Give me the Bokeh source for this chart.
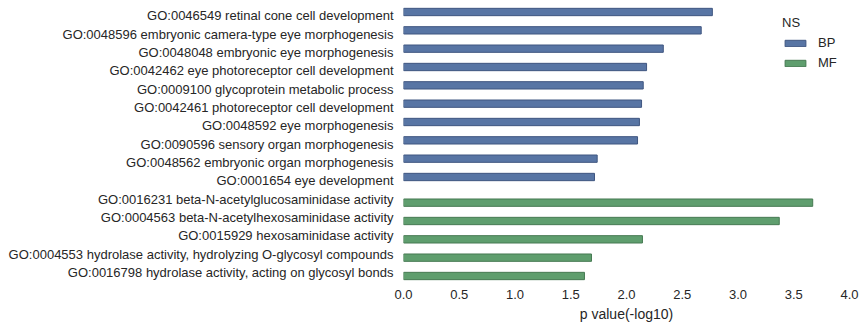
from bokeh.plotting import figure
from bokeh.models import ColumnDataSource, FactorRange, Range1d, FixedTicker
from bokeh.transform import dodge
from bokeh.embed import file_html
from bokeh.resources import INLINE

bp_terms = [
    "GO:0046549 retinal cone cell development",
    "GO:0048596 embryonic camera-type eye morphogenesis",
    "GO:0048048 embryonic eye morphogenesis",
    "GO:0042462 eye photoreceptor cell development",
    "GO:0009100 glycoprotein metabolic process",
    "GO:0042461 photoreceptor cell development",
    "GO:0048592 eye morphogenesis",
    "GO:0090596 sensory organ morphogenesis",
    "GO:0048562 embryonic organ morphogenesis",
    "GO:0001654 eye development",
]
bp_values = [2.77, 2.67, 2.33, 2.18, 2.15, 2.135, 2.116, 2.099, 1.737, 1.713]

mf_terms = [
    "GO:0016231 beta-N-acetylglucosaminidase activity",
    "GO:0004563 beta-N-acetylhexosaminidase activity",
    "GO:0015929 hexosaminidase activity",
    "GO:0004553 hydrolase activity, hydrolyzing O-glycosyl compounds",
    "GO:0016798 hydrolase activity, acting on glycosyl bonds",
]
mf_values = [3.67, 3.37, 2.143, 1.686, 1.623]

x_ticks = [0.0, 0.5, 1.0, 1.5, 2.0, 2.5, 3.0, 3.5, 4.0]

all_terms = bp_terms + mf_terms
FONT = "Liberation Sans"
TXT = "#262626"

p = figure(width=865, height=328, output_backend="svg", toolbar_location=None,
           y_range=FactorRange(factors=list(reversed(all_terms)), range_padding=0, factor_padding=0),
           x_range=Range1d(0, 4),
           min_border_left=403, min_border_right=16, min_border_top=6, min_border_bottom=47)

p.outline_line_color = None
p.background_fill_color = "white"
p.border_fill_color = "white"
p.xgrid.grid_line_color = None
p.ygrid.grid_line_color = None

src_bp = ColumnDataSource(dict(term=bp_terms, value=bp_values))
src_mf = ColumnDataSource(dict(term=mf_terms, value=mf_values))

p.hbar(y=dodge("term", 0.2, range=p.y_range), left=0, right="value", height=0.4,
       source=src_bp, fill_color="#5875a4", line_color="#3f5680", line_width=1,
       legend_label="BP")
p.hbar(y=dodge("term", -0.2, range=p.y_range), left=0, right="value", height=0.4,
       source=src_mf, fill_color="#5f9e6e", line_color="#467a52", line_width=1,
       legend_label="MF")

for ax in (p.xaxis[0], p.yaxis[0]):
    ax.axis_line_color = None
    ax.major_tick_line_color = None
    ax.minor_tick_line_color = None
    ax.major_tick_out = 0
    ax.major_tick_in = 0
    ax.major_label_text_font = FONT
    ax.major_label_text_font_size = "13px"
    ax.major_label_text_color = TXT

p.xaxis.ticker = FixedTicker(ticks=x_ticks)
p.xaxis.major_label_overrides = {t: f"{t:.1f}" for t in x_ticks}
p.xaxis.major_label_standoff = 8
p.xaxis.axis_label = "p value(-log10)"
p.xaxis.axis_label_text_font = FONT
p.xaxis.axis_label_text_font_size = "14px"
p.xaxis.axis_label_text_font_style = "normal"
p.xaxis.axis_label_text_color = TXT
p.xaxis.axis_label_standoff = 4
p.yaxis.major_label_standoff = 10

lg = p.legend[0]
lg.title = "NS"
lg.title_text_font = FONT
lg.title_text_font_size = "13px"
lg.title_text_font_style = "normal"
lg.title_text_color = TXT
lg.label_text_font = FONT
lg.label_text_font_size = "13px"
lg.label_text_color = TXT
lg.glyph_width = 26
lg.glyph_height = 8
lg.label_standoff = 10
lg.spacing = 5
lg.padding = 0
lg.margin = 0
lg.border_line_color = None
lg.background_fill_alpha = 0
lg.location = (379, 211)

open("out.html", "w").write(file_html(p, INLINE))
